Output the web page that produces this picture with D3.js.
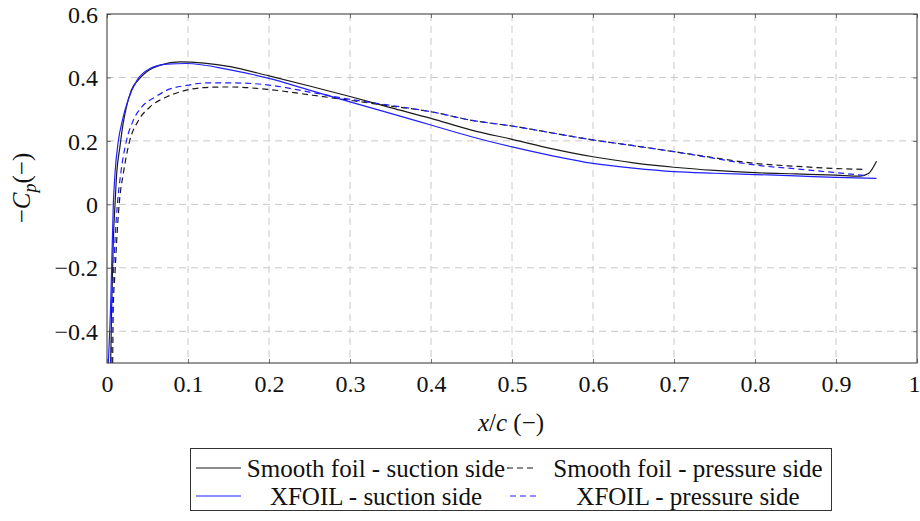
<!DOCTYPE html>
<html>
<head>
<meta charset="utf-8">
<script src="https://cdn.jsdelivr.net/npm/d3@7/dist/d3.min.js"></script>
<style>
  html, body { margin: 0; padding: 0; background: #fff; }
  svg, svg text { font-family: "Liberation Serif", "Times New Roman", Times, serif !important; }
</style>
</head>
<body>
<svg id="chart" width="920" height="521"></svg>
<script>
// Pressure coefficient distributions, -Cp against chordwise position x/c
const xSmoothSuction = [0.0045, 0.0058, 0.0078, 0.0099, 0.012, 0.016, 0.0193, 0.024, 0.030, 0.039, 0.049, 0.066, 0.090, 0.12, 0.152, 0.2, 0.25, 0.3, 0.35, 0.4, 0.45, 0.5, 0.55, 0.6, 0.65, 0.7, 0.75, 0.8, 0.85, 0.9, 0.93, 0.94, 0.95];
const ySmoothSuction = [-0.5, -0.32, -0.113, 0, 0.098, 0.182, 0.245, 0.307, 0.36, 0.393, 0.418, 0.439, 0.449, 0.445, 0.434, 0.405, 0.373, 0.340, 0.305, 0.271, 0.234, 0.205, 0.175, 0.150, 0.131, 0.117, 0.107, 0.100, 0.096, 0.092, 0.089, 0.097, 0.136];

const xSmoothPressure = [0.0070, 0.0078, 0.0099, 0.012, 0.015, 0.0202, 0.028, 0.039, 0.053, 0.074, 0.098, 0.127, 0.152, 0.2, 0.254, 0.3, 0.35, 0.4, 0.45, 0.5, 0.55, 0.6, 0.65, 0.7, 0.75, 0.8, 0.85, 0.9, 0.937];
const ySmoothPressure = [-0.5, -0.32, -0.215, -0.113, 0, 0.098, 0.2, 0.265, 0.307, 0.339, 0.36, 0.369, 0.370, 0.362, 0.344, 0.328, 0.310, 0.292, 0.265, 0.247, 0.225, 0.203, 0.185, 0.166, 0.147, 0.129, 0.120, 0.113, 0.110];

const xXfoilSuction = [0.0016, 0.0045, 0.0078, 0.0099, 0.014, 0.019, 0.026, 0.037, 0.053, 0.074, 0.098, 0.152, 0.2, 0.25, 0.3, 0.35, 0.4, 0.45, 0.5, 0.55, 0.6, 0.65, 0.7, 0.75, 0.8, 0.85, 0.9, 0.95];
const yXfoilSuction = [-0.5, -0.32, 0, 0.098, 0.2, 0.265, 0.328, 0.391, 0.428, 0.442, 0.444, 0.424, 0.397, 0.360, 0.323, 0.287, 0.250, 0.213, 0.181, 0.153, 0.129, 0.114, 0.103, 0.098, 0.094, 0.090, 0.085, 0.082];

const xXfoilPressure = [0.005, 0.0066, 0.0099, 0.0128, 0.017, 0.024, 0.0325, 0.043, 0.06, 0.074, 0.098, 0.127, 0.152, 0.2, 0.25, 0.3, 0.35, 0.4, 0.45, 0.5, 0.55, 0.6, 0.65, 0.7, 0.75, 0.8, 0.85, 0.9, 0.94];
const yXfoilPressure = [-0.5, -0.32, -0.113, 0, 0.098, 0.2, 0.265, 0.307, 0.339, 0.36, 0.375, 0.383, 0.383, 0.376, 0.354, 0.331, 0.312, 0.292, 0.265, 0.247, 0.225, 0.203, 0.185, 0.166, 0.145, 0.124, 0.112, 0.100, 0.090];

const xTicks = [0, 0.1, 0.2, 0.3, 0.4, 0.5, 0.6, 0.7, 0.8, 0.9, 1];
const xTickLabels = ["0", "0.1", "0.2", "0.3", "0.4", "0.5", "0.6", "0.7", "0.8", "0.9", "1"];
const yTicks = [-0.4, -0.2, 0, 0.2, 0.4, 0.6];
const yTickLabels = ["\u22120.4", "\u22120.2", "0", "0.2", "0.4", "0.6"];

const seriesNames = ["Smooth foil - suction side", "Smooth foil - pressure side", "XFOIL - suction side", "XFOIL - pressure side"];
const seriesColors = ["#1a1a1a", "#1a1a1a", "#1f1fff", "#1f1fff"];
const seriesDashed = [false, true, false, true];

const series = [
  d3.zip(xSmoothSuction, ySmoothSuction),
  d3.zip(xSmoothPressure, ySmoothPressure),
  d3.zip(xXfoilSuction, yXfoilSuction),
  d3.zip(xXfoilPressure, yXfoilPressure)
];

const svg = d3.select("#chart");
const plotLeft = 107, plotTop = 14, plotW = 810, plotH = 349;
const x = d3.scaleLinear().domain([0, 1]).range([plotLeft, plotLeft + plotW]);
const y = d3.scaleLinear().domain([-0.5, 0.6]).range([plotTop + plotH, plotTop]);

svg.append("defs").append("clipPath").attr("id", "plotClip")
  .append("rect").attr("x", plotLeft).attr("y", plotTop).attr("width", plotW).attr("height", plotH);

// grid
const grid = svg.append("g").attr("stroke", "#c8c8c8").attr("stroke-width", 1).attr("stroke-dasharray", "7,5");
grid.selectAll("line.vx").data(xTicks.slice(1, -1)).join("line")
  .attr("x1", d => x(d)).attr("x2", d => x(d)).attr("y1", plotTop).attr("y2", plotTop + plotH);
grid.selectAll("line.hy").data(yTicks.slice(0, -1)).join("line")
  .attr("x1", plotLeft).attr("x2", plotLeft + plotW).attr("y1", d => y(d)).attr("y2", d => y(d));

// axes with inward ticks
const tickLen = 4;
const axB = svg.append("g").attr("transform", `translate(0,${plotTop + plotH})`)
  .call(d3.axisBottom(x).tickValues(xTicks).tickSize(-tickLen).tickPadding(12).tickFormat((d, i) => xTickLabels[i]));
const axT = svg.append("g").attr("transform", `translate(0,${plotTop})`)
  .call(d3.axisTop(x).tickValues(xTicks).tickSize(-tickLen).tickFormat(""));
const axL = svg.append("g").attr("transform", `translate(${plotLeft},0)`)
  .call(d3.axisLeft(y).tickValues(yTicks).tickSize(-tickLen).tickPadding(9).tickFormat((d, i) => yTickLabels[i]));
const axR = svg.append("g").attr("transform", `translate(${plotLeft + plotW},0)`)
  .call(d3.axisRight(y).tickValues(yTicks).tickSize(-tickLen).tickFormat(""));
[axB, axT, axL, axR].forEach(g => {
  g.attr("font-family", null);
  g.select(".domain").remove();
  g.selectAll(".tick line").attr("stroke", "#555").attr("stroke-width", 0.8);
  g.selectAll("text").attr("font-size", 24).attr("fill", "#111");
});
axB.selectAll("text").attr("dy", "0.71em");
axL.selectAll("text").attr("dy", "0.34em");
// keep the last x label inside the canvas
axB.selectAll(".tick").filter(d => d === 1).select("text").attr("text-anchor", "end").attr("dx", 3);

// curves
const line = d3.line().x(d => x(d[0])).y(d => y(d[1])).curve(d3.curveMonotoneX);
const curves = svg.append("g").attr("clip-path", "url(#plotClip)");
curves.selectAll("path").data(series).join("path")
  .attr("d", line)
  .attr("fill", "none")
  .attr("stroke", (d, i) => seriesColors[i])
  .attr("stroke-width", 1.2)
  .attr("stroke-dasharray", (d, i) => seriesDashed[i] ? "6,4" : null);

// frame
svg.append("rect").attr("x", plotLeft).attr("y", plotTop).attr("width", plotW).attr("height", plotH)
  .attr("fill", "none").attr("stroke", "#444").attr("stroke-width", 1.1);

// axis titles
const xt = svg.append("text").attr("x", 511).attr("y", 431).attr("text-anchor", "middle")
  .attr("font-size", 25).attr("fill", "#111");
xt.append("tspan").attr("font-style", "italic").text("x");
xt.append("tspan").text("/");
xt.append("tspan").attr("font-style", "italic").text("c");
xt.append("tspan").text(" (\u2212)");

const yt = svg.append("text").attr("transform", "translate(30,188) rotate(-90)").attr("text-anchor", "middle")
  .attr("font-size", 25).attr("fill", "#111");
yt.append("tspan").text("\u2212");
yt.append("tspan").attr("font-style", "italic").text("C");
yt.append("tspan").attr("font-style", "italic").attr("font-size", 18).attr("dy", 6).text("p");
yt.append("tspan").attr("dy", -6).text("(\u2212)");

// legend
const lg = svg.append("g");
lg.append("rect").attr("x", 190.5).attr("y", 448.5).attr("width", 641).attr("height", 62)
  .attr("fill", "#fff").attr("stroke", "#333").attr("stroke-width", 1);
const sampleX = [[196, 241], [507, 537], [196, 241], [510, 540]];
const textX = [376, 688, 376, 688];
const rowY = [468, 496];
seriesNames.forEach((name, i) => {
  const r = Math.floor(i / 2);
  lg.append("line").attr("x1", sampleX[i][0]).attr("x2", sampleX[i][1])
    .attr("y1", rowY[r]).attr("y2", rowY[r])
    .attr("stroke", seriesColors[i]).attr("stroke-width", 1.2)
    .attr("stroke-dasharray", seriesDashed[i] ? "6,4" : null);
  lg.append("text").attr("x", textX[i]).attr("y", rowY[r]).attr("dy", "0.34em")
    .attr("text-anchor", "middle").attr("font-size", 25).attr("fill", "#111").text(name);
});
</script>
</body>
</html>
